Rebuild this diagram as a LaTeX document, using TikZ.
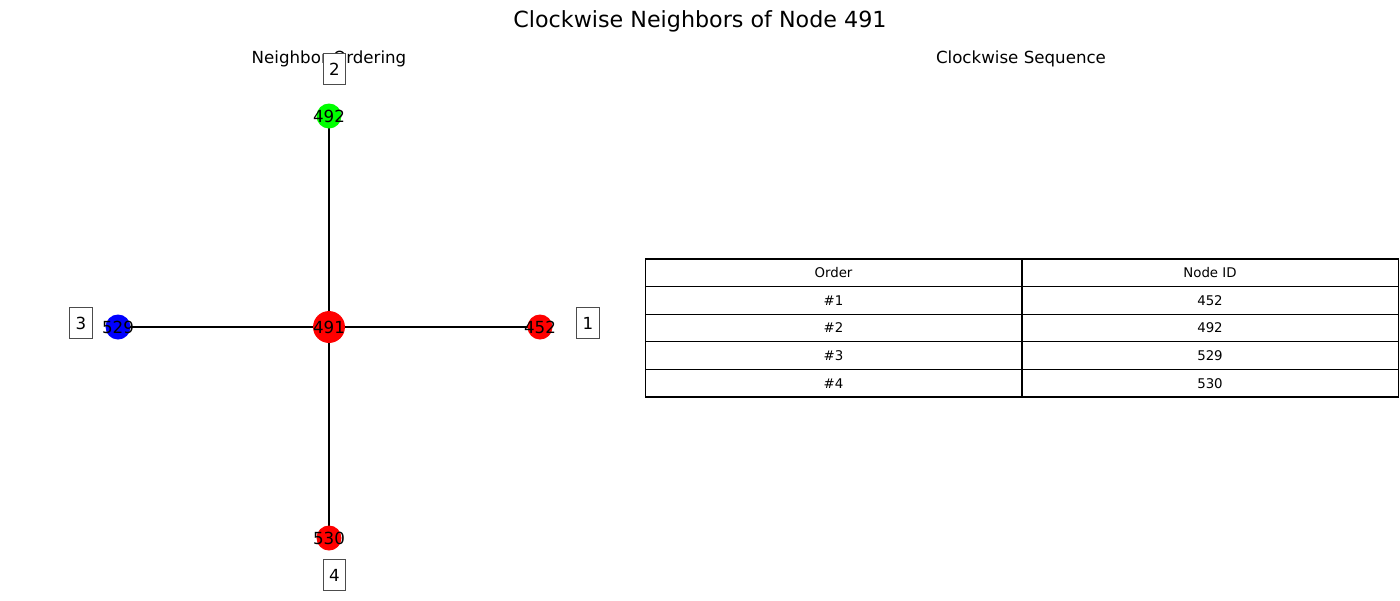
\documentclass[tikz,border=0pt]{standalone}
\usepackage{fontspec}
\setmainfont{DejaVu Sans}
\usetikzlibrary{backgrounds}
\begin{document}
\begin{tikzpicture}[x=0.72pt,y=-0.72pt,
  vtxfont/.style={font=\fontsize{12}{12}\selectfont},
  bigvtx/.style={circle,inner sep=0pt,minimum size=23pt},
  smallvtx/.style={circle,inner sep=0pt,minimum size=18pt},
  edge/.style={black,line width=1.1pt},
  numbox/.style={draw=black!70,line width=0.7pt,fill=white,minimum width=16.3pt,minimum height=23pt,inner sep=0pt,font=\fontsize{12}{12}\selectfont},
  cell/.style={draw=black,line width=0.75pt,minimum width=271.4pt,minimum height=19.87pt,inner sep=0pt,font=\fontsize{9.6}{9.6}\selectfont},
  subtitle/.style={font=\fontsize{12}{12}\selectfont},
]
\useasboundingbox (0,0) rectangle (1400,600);
\node[font=\fontsize{16}{16}\selectfont] (title) at (700,21) {Clockwise Neighbors of Node 491};
\node[subtitle] (st1) at (329,59) {Neighbor Ordering};
\node[subtitle] (st2) at (1021,59) {Clockwise Sequence};

\node[bigvtx,fill=red,label={[vtxfont]center:491}] (n491) at (329,327) {};
\node[smallvtx,fill={rgb,255:red,0;green,255;blue,0},label={[vtxfont]center:492}] (n492) at (329,116) {};
\node[smallvtx,fill=red,label={[vtxfont]center:530}] (n530) at (329,538) {};
\node[smallvtx,fill=blue,label={[vtxfont]center:529}] (n529) at (118,327) {};
\node[smallvtx,fill=red,label={[vtxfont]center:452}] (n452) at (540,327) {};

\begin{scope}[on background layer]
\draw[edge] (n491.center) -- (n492.center);
\draw[edge] (n491.center) -- (n530.center);
\draw[edge] (n491.center) -- (n529.center);
\draw[edge] (n491.center) -- (n452.center);
\end{scope}

\node[numbox] (l1) at (588,323) {1};
\node[numbox] (l2) at (334.5,69) {2};
\node[numbox] (l3) at (81,323) {3};
\node[numbox] (l4) at (334.5,575) {4};

\node[cell] (h1) at (833.5,272.8) {Order};
\node[cell] (h2) at (1210,272.8) {Node ID};
\node[cell] (a1) at (833.5,300.4) {\#1};
\node[cell] (a2) at (1210,300.4) {452};
\node[cell] (b1) at (833.5,328) {\#2};
\node[cell] (b2) at (1210,328) {492};
\node[cell] (c1) at (833.5,355.6) {\#3};
\node[cell] (c2) at (1210,355.6) {529};
\node[cell] (d1) at (833.5,383.2) {\#4};
\node[cell] (d2) at (1210,383.2) {530};
\end{tikzpicture}
\end{document}
